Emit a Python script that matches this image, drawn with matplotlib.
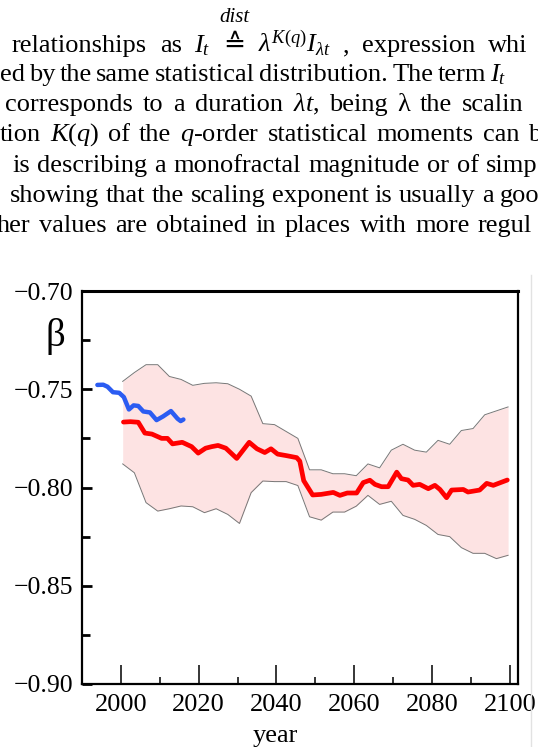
import numpy as np
import matplotlib
matplotlib.use("Agg")
import matplotlib.pyplot as plt
from matplotlib.ticker import MultipleLocator, FuncFormatter
from matplotlib.lines import Line2D

# ---- data ----
band_years = [2000.5 + 3 * i for i in range(34)]
band_hi = [-0.746, -0.7415, -0.7375, -0.7375, -0.7435, -0.745, -0.748, -0.747, -0.7467, -0.7472,
           -0.750, -0.7535, -0.7675, -0.768, -0.7715, -0.775, -0.791, -0.791, -0.793, -0.793,
           -0.794, -0.788, -0.790, -0.781, -0.778, -0.781, -0.782, -0.776, -0.778, -0.771,
           -0.770, -0.763, -0.761, -0.759]
band_lo = [-0.788, -0.7925, -0.8077, -0.812, -0.8108, -0.8094, -0.8098, -0.8128, -0.8108, -0.8137,
           -0.8183, -0.8026, -0.7967, -0.797, -0.797, -0.799, -0.8149, -0.8166, -0.8125, -0.8125,
           -0.8095, -0.804, -0.8086, -0.807, -0.8142, -0.8162, -0.8193, -0.8239, -0.825, -0.8306,
           -0.8335, -0.8335, -0.8362, -0.8345]

red_years = [2000.7, 2002.5, 2004.5, 2006.2, 2008.0, 2010.5, 2012.0, 2013.3, 2015.8, 2018.2,
             2019.9, 2021.8, 2023.4, 2025.0, 2027.0, 2029.8, 2033.0, 2035.0, 2037.0, 2038.6,
             2040.3, 2042.6, 2045.2, 2046.0, 2047.0, 2049.3, 2051.5, 2054.6, 2056.3, 2058.2,
             2060.6, 2062.3, 2064.0, 2065.3, 2067.0, 2068.7, 2070.9, 2072.1, 2073.8, 2075.1,
             2076.8, 2079.0, 2080.7, 2082.0, 2083.7, 2085.0, 2088.0, 2089.2, 2092.2, 2094.0,
             2095.7, 2099.3]
red_vals = [-0.7667, -0.7665, -0.7668, -0.7723, -0.7728, -0.7750, -0.7750, -0.7778, -0.7770, -0.7792,
            -0.7825, -0.7800, -0.7792, -0.7786, -0.7800, -0.7852, -0.7770, -0.7803, -0.7822, -0.7803,
            -0.7830, -0.7838, -0.7848, -0.7866, -0.7965, -0.8038, -0.8035, -0.8025, -0.8040, -0.8028,
            -0.8028, -0.7975, -0.7963, -0.7984, -0.7996, -0.7996, -0.7922, -0.7955, -0.7962, -0.7989,
            -0.7984, -0.8006, -0.7989, -0.8010, -0.8052, -0.8013, -0.8010, -0.8023, -0.8013, -0.7979,
            -0.7989, -0.7962]

blue_years = [1994.0, 1995.5, 1996.6, 1998.0, 1999.6, 2000.8, 2002.1, 2003.3, 2004.5, 2005.8,
              2007.5, 2009.2, 2010.9, 2012.9, 2014.6, 2015.4, 2016.1]
blue_vals = [-0.7478, -0.7477, -0.7487, -0.7515, -0.7518, -0.7540, -0.7603, -0.7582, -0.7585, -0.7613,
             -0.7618, -0.7657, -0.7638, -0.7611, -0.7650, -0.7662, -0.7654]

# paragraph lines above the chart (page fragment)
text_lines = [
    ["relationships", "as", "$I_t$", "\u2259", r"$\lambda^{K(q)}I_{\lambda t}$", ",", "expression", "whi"],
    ["ed", "by", "the", "same", "statistical", "distribution.", "The", "term", "$I_t$"],
    ["corresponds", "to", "a", "duration", r"$\lambda t$,", "being", "\u03bb", "the", "scalin"],
    ["tion", "$K(q)$", "of", "the", "$q$-order", "statistical", "moments", "can", "b"],
    ["is", "describing", "a", "monofractal", "magnitude", "or", "of", "simp"],
    ["showing", "that", "the", "scaling", "exponent", "is", "usually", "a", "goo"],
    ["her", "values", "are", "obtained", "in", "places", "with", "more", "regul"],
]

SERIF = "Liberation Serif"
plt.rcParams["font.family"] = [SERIF, "DejaVu Serif"]
plt.rcParams["mathtext.fontset"] = "custom"
plt.rcParams["mathtext.rm"] = SERIF
plt.rcParams["mathtext.it"] = SERIF + ":italic"

W, H = 538, 747
fig = plt.figure(figsize=(W / 100, H / 100), dpi=100)


def fx(px):
    return px / W


def fy(py):
    return 1 - py / H


renderer = fig.canvas.get_renderer()


def put_line(words, x0, x_last, base, size=19):
    # justified line: first word at x0, last word starting at x_last
    objs = [fig.text(0, fy(base), w, fontsize=size, ha="left", va="baseline",
                     family=[SERIF, "DejaVu Sans"]) for w in words]
    widths = [t.get_window_extent(renderer).width for t in objs]
    gap = (x_last - x0 - sum(widths[:-1])) / (len(words) - 1)
    x = x0
    for t, wd in zip(objs, widths):
        t.set_x(fx(x))
        x += wd + gap
    return objs


starts = [12, 0, 5, 0, 12, 10, -3]
lasts = [488, 490, 462, 528, 486, 500, 478]
bases = [52, 81, 111, 141, 172, 202, 232]
for words, x0, xl, b in zip(text_lines, starts, lasts, bases):
    objs = put_line(words, x0, xl, b)
    if words[3] == "\u2259":
        bb = objs[3].get_window_extent(renderer)
        cx = (bb.x0 + bb.x1) / 2
        fig.text(cx / W, fy(22), "dist", fontsize=15, style="italic", ha="center", va="baseline")

# ---- chart ----
ax = fig.add_axes([fx(82), fy(684), fx(518) - fx(82), fy(291) - fy(684)])

ax.fill_between(band_years, band_lo, band_hi, color="#fde3e3", lw=0)
ax.plot(band_years, band_hi, color="#777777", lw=0.7)
ax.plot(band_years, band_lo, color="#777777", lw=0.7)
ax.plot(red_years, red_vals, color="#ff0000", lw=3.4, solid_joinstyle="round", solid_capstyle="round")
ax.plot(blue_years, blue_vals, color="#2b5cf2", lw=3.2, solid_joinstyle="round", solid_capstyle="round")

ax.set_xlim(1990.05, 2102.05)
ax.set_ylim(-0.90, -0.70)

ax.xaxis.set_major_locator(MultipleLocator(20))
ax.xaxis.set_minor_locator(MultipleLocator(10))
ax.yaxis.set_major_locator(MultipleLocator(0.05))
ax.yaxis.set_minor_locator(MultipleLocator(0.025))
ax.xaxis.set_major_formatter(FuncFormatter(lambda v, p: "%d" % round(v)))
ax.yaxis.set_major_formatter(FuncFormatter(lambda v, p: ("%.2f" % v).replace("-", "\u2212")))

ax.tick_params(axis="x", which="major", direction="in", length=14, width=1.1, labelsize=19, pad=7)
ax.tick_params(axis="x", which="minor", direction="in", length=5, width=1.1)
ax.tick_params(axis="y", which="major", direction="in", length=7.5, width=2, labelsize=18.5, pad=6)
ax.tick_params(axis="y", which="minor", direction="in", length=6, width=2)
ax.tick_params(top=False, right=False, which="both")

for s in ["left", "bottom", "right"]:
    ax.spines[s].set_linewidth(1.6)
ax.spines["top"].set_linewidth(2.2)

ax.set_xlabel("year", fontsize=19, labelpad=0)
ax.xaxis.set_label_coords((275 - 82) / 436, -0.105)
fig.text(fx(55), fy(336), "\u03b2", fontsize=28, ha="center", va="center")

# faint edge of the neighbouring panel
fig.add_artist(Line2D([fx(531), fx(531)], [fy(275), 0], color="#e2e2e2", lw=1))

fig.savefig("out.png", dpi=100)
